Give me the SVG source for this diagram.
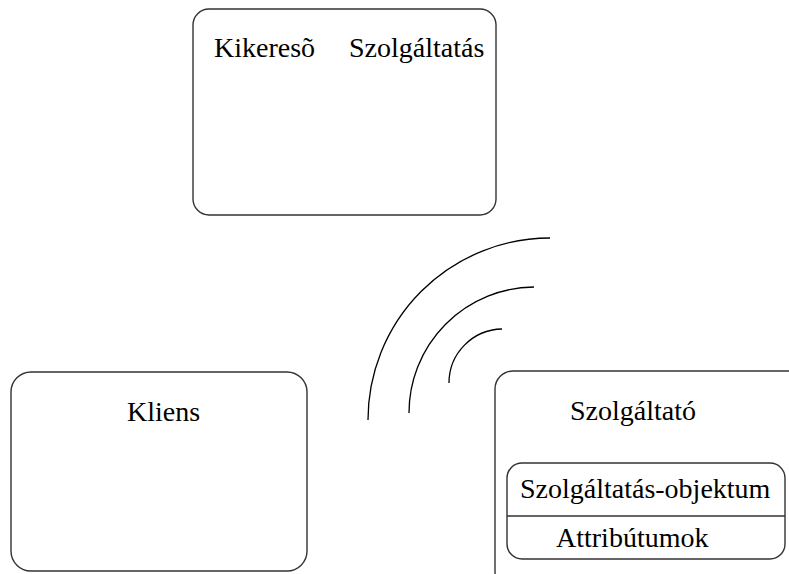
<svg xmlns="http://www.w3.org/2000/svg" width="789" height="574" viewBox="0 0 789 574">
<style>
.box{fill:none;stroke:#333;stroke-width:1.4}
.arc{fill:none;stroke:#000;stroke-width:1.3}
.t{font-family:'Liberation Serif','DejaVu Serif',serif;font-size:28px;fill:#000}
</style>
<rect width="789" height="574" fill="#fff"/>
<g id="kikereso">
<rect class="box" x="193" y="9" width="303" height="206" rx="16"/>
<text class="t" x="214" y="57">Kikeresõ</text>
<text class="t" x="349" y="57">Szolgáltatás</text>
</g>
<g id="kliens">
<rect class="box" x="11" y="372" width="296" height="199" rx="20"/>
<text class="t" x="127" y="421">Kliens</text>
</g>
<g id="szolgaltato">
<rect class="box" x="495" y="371" width="330" height="219" rx="18"/>
<text class="t" x="570" y="420">Szolgáltató</text>
</g>
<g id="objektum">
<rect class="box" x="507" y="463" width="278" height="96" rx="15"/>
<line class="box" x1="507" y1="516" x2="785" y2="516"/>
<text class="t" x="520" y="498">Szolgáltatás-objektum</text>
<text class="t" x="556" y="547">Attribútumok</text>
</g>
<g id="connectors">
<path class="arc" d="M368 420 A182 182 0 0 1 550 238"/>
<path class="arc" d="M409 413 A126 126 0 0 1 534 287"/>
<path class="arc" d="M449 383 A54 54 0 0 1 502 329"/>
</g>
</svg>
